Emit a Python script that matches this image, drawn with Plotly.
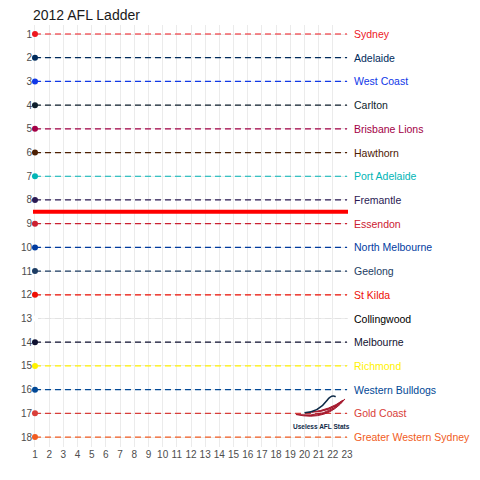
import plotly.graph_objects as go

# 2012 AFL ladder, start of season
teams = ["Sydney", "Adelaide", "West Coast", "Carlton", "Brisbane Lions", "Hawthorn",
         "Port Adelaide", "Fremantle", "Essendon", "North Melbourne", "Geelong", "St Kilda",
         "Collingwood", "Melbourne", "Richmond", "Western Bulldogs", "Gold Coast",
         "Greater Western Sydney"]
positions = list(range(1, 19))
team_colors = ["#ED171F", "#002B5C", "#1038E8", "#0E1E2D", "#A30046", "#4D2004",
               "#01B5B6", "#2A1A54", "#CC2031", "#013B9F", "#1C3C63", "#ED0F05",
               "#FFFFFF", "#0F1131", "#FFF200", "#014896", "#D93E39", "#F15C22"]
label_colors = team_colors[:12] + ["#000000"] + team_colors[13:]
line_colors = team_colors[:12] + ["#E2E2E2"] + team_colors[13:]
rounds = list(range(1, 24))
finals_cutoff = 8.5

fig = go.Figure()

for team, pos, col, lcol in zip(teams, positions, team_colors, line_colors):
    fig.add_trace(go.Scatter(x=[rounds[0], rounds[-1]], y=[pos, pos], mode="lines",
                             line=dict(color=lcol, width=1.2, dash="6px,4px"),
                             hoverinfo="skip", showlegend=False))
    fig.add_trace(go.Scatter(x=[rounds[0]], y=[pos], mode="markers",
                             marker=dict(color=col, size=6), name=team,
                             showlegend=False, cliponaxis=False))

# top 8 cut line
fig.add_shape(type="line", xref="paper", x0=0, x1=1, y0=finals_cutoff, y1=finals_cutoff,
              line=dict(color="#FF0000", width=4))

# team names on the right
for team, pos, col in zip(teams, positions, label_colors):
    fig.add_annotation(x=1, xref="paper", y=pos, yref="y", text=team, showarrow=False,
                       xanchor="left", xshift=4, font=dict(size=10.5, color=col))

# watermark logo (rough)
fig.add_shape(type="path", xref="x", yref="y",
              path="M 19.4,17.05 Q 21.6,17.35 22.85,16.4 Q 21.9,16.95 20.5,16.95 Q 21.8,16.85 22.7,16.45 Q 21.6,17.2 19.4,17.05 Z",
              fillcolor="#A6192E", line=dict(color="#A6192E", width=1))
fig.add_shape(type="path", xref="x", yref="y",
              path="M 20.0,16.98 Q 21.0,16.95 21.6,16.45 Q 21.9,16.2 22.2,16.3",
              line=dict(color="#0E2A47", width=1.5))
fig.add_annotation(x=21.2, y=17.55, xref="x", yref="y", text="<b>Useless AFL Stats</b>",
                   showarrow=False, font=dict(size=6.5, color="#0E2A47"))

fig.update_layout(
    width=480, height=480,
    paper_bgcolor="white", plot_bgcolor="white",
    margin=dict(l=25, r=140, t=17, b=41),
    title=dict(text="2012 AFL Ladder", x=25 / 480, xanchor="left", y=1 - 7 / 480,
               yanchor="middle", font=dict(family="Liberation Sans, Arial", size=14, color="#1a1a1a")),
    font=dict(family="Liberation Sans, Arial", size=10, color="#4d4d4d"),
    xaxis=dict(range=[0.86, 23.07], tickvals=rounds, showgrid=True, gridcolor="#EBEBEB",
               zeroline=False, showline=False, ticks="", automargin=False,
               tickfont=dict(size=10, color="#4d4d4d")),
    yaxis=dict(range=[18.42, 0.62], tickvals=positions, showgrid=True, gridcolor="#EBEBEB",
               zeroline=False, showline=False, ticks="", automargin=False,
               tickfont=dict(size=10, color="#4d4d4d")),
)

fig.write_html("out.html")
